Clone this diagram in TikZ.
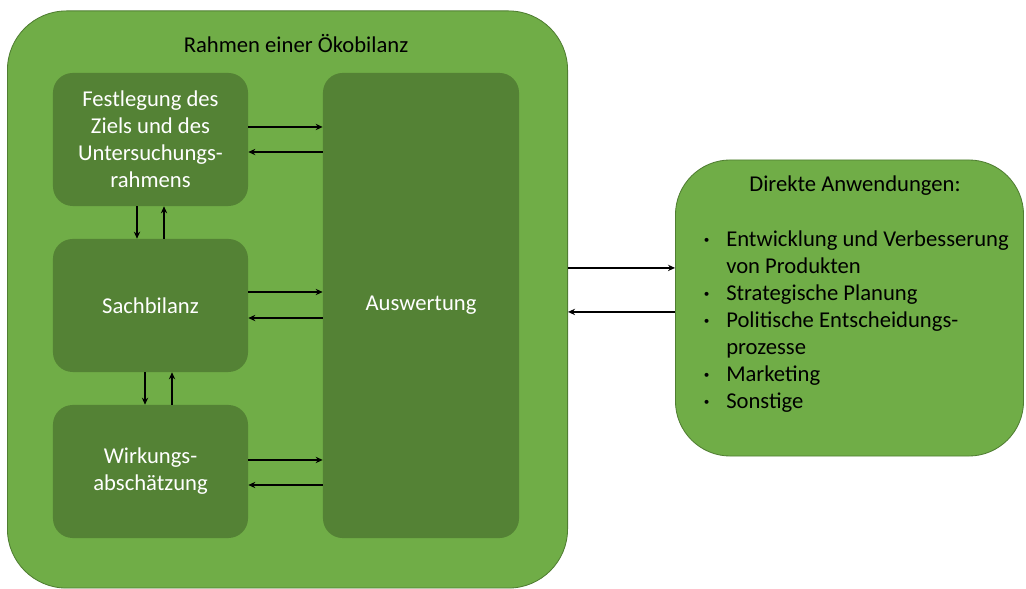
\documentclass[tikz,border=0pt]{standalone}
\usepackage{fontspec}
\setmainfont{Carlito}
\usepackage{xcolor}
\usetikzlibrary{positioning,arrows.meta}
\definecolor{rahmengruen}{HTML}{70AD47}
\definecolor{boxgruen}{HTML}{548235}
\definecolor{randgruen}{HTML}{507E32}
\newcommand{\punkt}{\raisebox{0.3ex}{\fontsize{8}{8}\selectfont\textbullet}}

\begin{document}
\begin{tikzpicture}[
					%Environment config
					x=0.025cm, y=-0.025cm,
					font=\fontsize{16.1}{19.2}\selectfont,
					>={Stealth[length=5pt,width=4.5pt]},
					%Environment styles
					FrameCfg/.style={
						draw=randgruen,
						fill=rahmengruen,
						line width=0.6pt,
						inner sep=0pt
					},
					StepCfg/.style={
						fill=boxgruen,
						rounded corners=14pt,
						text=white,
						align=center,
						minimum width=4.875cm,
						minimum height=3.325cm,
						inner sep=0pt
					},
					ArrowCfg/.style={->, line width=1pt}
					]
					\useasboundingbox (0,0) rectangle (1026,589);
					\path
					(287.5,299.5) node[FrameCfg,rounded corners=42pt,minimum width=14cm,minimum height=14.425cm](rahmen){}
					(296,44) node(titel){Rahmen einer Ökobilanz}
					(150.5,139.5) node[StepCfg](ziel){Festlegung des\\Ziels und des\\Untersuchungs-\\rahmens}
					++ (0,166) node[StepCfg](sachbilanz){Sachbilanz}
					++ (0,166) node[StepCfg](wirkung){Wirkungs-\\abschätzung}
					(421,305.5) node[StepCfg,minimum width=4.9cm,minimum height=11.625cm](auswertung){Auswertung}
					(849.5,308) node[FrameCfg,rounded corners=39pt,minimum width=8.7cm,minimum height=7.4cm](anwendungen){}
					(855,186) node(anwtitel){Direkte Anwendungen:}
					(703.5,227.5) node[anchor=north west,inner sep=0pt,align=left](liste){%
						\begin{tabular}{@{}l@{\hspace{12pt}}l@{}}
						\punkt & Entwicklung und Verbesserung\\
						& von Produkten\\
						\punkt & Strategische Planung\\
						\punkt & Politische Entscheidungs-\\
						& prozesse\\
						\punkt & Marketing\\
						\punkt & Sonstige
						\end{tabular}};
					
					\coordinate (hin) at ([yshift=28.5pt]anwendungen.west);
					\coordinate (zurueck) at ([yshift=-2.8pt]anwendungen.west);
					
					\draw[ArrowCfg]
					([yshift=8.9pt]ziel.east) -- ([yshift=8.9pt]ziel.east -| auswertung.west);
					\draw[ArrowCfg]
					([yshift=-8.9pt]ziel.east -| auswertung.west) -- ([yshift=-8.9pt]ziel.east);
					\draw[ArrowCfg]
					([yshift=9.6pt]sachbilanz.east) -- ([yshift=9.6pt]sachbilanz.east -| auswertung.west);
					\draw[ArrowCfg]
					([yshift=-8.9pt]sachbilanz.east -| auswertung.west) -- ([yshift=-8.9pt]sachbilanz.east);
					\draw[ArrowCfg]
					([yshift=8.2pt]wirkung.east) -- ([yshift=8.2pt]wirkung.east -| auswertung.west);
					\draw[ArrowCfg]
					([yshift=-9.6pt]wirkung.east -| auswertung.west) -- ([yshift=-9.6pt]wirkung.east);
					
					\draw[ArrowCfg]
					([xshift=-9.6pt]ziel.south) -- ([xshift=-9.6pt]ziel.south |- sachbilanz.north);
					\draw[ArrowCfg]
					([xshift=9.6pt]ziel.south |- sachbilanz.north) -- ([xshift=9.6pt]ziel.south);
					\draw[ArrowCfg]
					([xshift=-3.9pt]sachbilanz.south) -- ([xshift=-3.9pt]sachbilanz.south |- wirkung.north);
					\draw[ArrowCfg]
					([xshift=15.3pt]sachbilanz.south |- wirkung.north) -- ([xshift=15.3pt]sachbilanz.south);
					
					\draw[ArrowCfg] (hin -| rahmen.east) -- (hin);
					\draw[ArrowCfg] (zurueck) -- (zurueck -| rahmen.east);
				\end{tikzpicture}
\end{document}
